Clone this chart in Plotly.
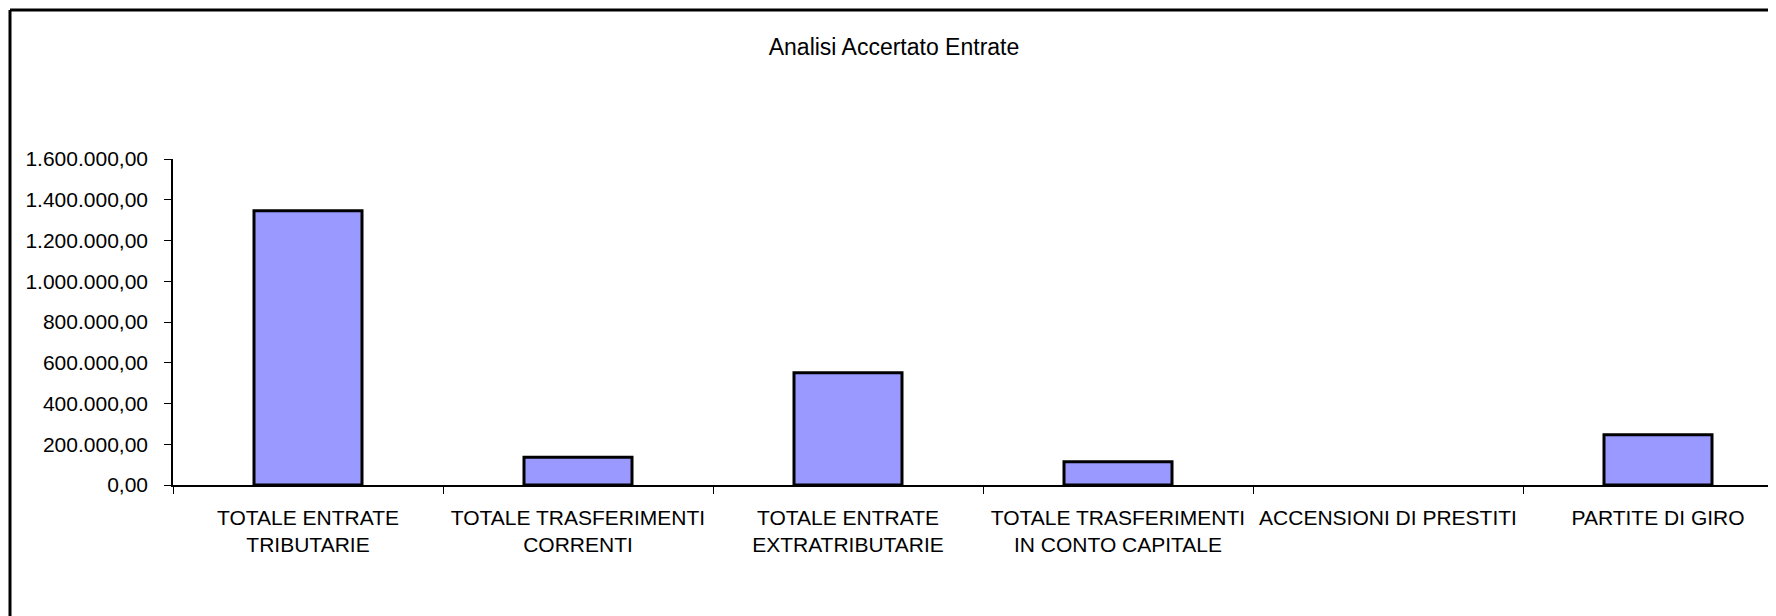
import plotly.graph_objects as go

# dati
categorie = [
    "TOTALE ENTRATE<br>TRIBUTARIE",
    "TOTALE TRASFERIMENTI<br>CORRENTI",
    "TOTALE ENTRATE<br>EXTRATRIBUTARIE",
    "TOTALE TRASFERIMENTI<br>IN CONTO CAPITALE",
    "ACCENSIONI DI PRESTITI",
    "PARTITE DI GIRO",
]
accertato = [1346000, 136000, 551000, 114000, 0, 247000]
y_ticks = [0, 200000, 400000, 600000, 800000, 1000000, 1200000, 1400000, 1600000]

# la pagina ha 8px di margine attorno al grafico
W, H = 1768, 608
ML, MR, MT, MB = 165, 0, 151, 131
CAT_PX = 270  # larghezza di una categoria in pixel

plot_w = W - ML - MR
plot_h = H - MT - MB
FONT = "Arial, Liberation Sans, sans-serif"

fig = go.Figure()
fig.add_trace(go.Bar(
    x=categorie,
    y=accertato,
    width=0.4,
    marker=dict(color="#9999FF",
                line=dict(color="black", width=[3 if v else 0 for v in accertato])),
))

# cornice del grafico (solo lati sinistro e superiore visibili)
x_left = (2 - ML) / plot_w
y_top = 1 + (MT - 2) / plot_h
fig.add_shape(type="line", xref="paper", yref="paper",
              x0=x_left, x1=1.2, y0=y_top, y1=y_top,
              line=dict(color="black", width=3))
fig.add_shape(type="line", xref="paper", yref="paper",
              x0=x_left, x1=x_left, y0=y_top, y1=-0.6,
              line=dict(color="black", width=3))

fig.update_layout(
    width=W, height=H,
    margin=dict(l=ML, r=MR, t=MT, b=MB, pad=0),
    paper_bgcolor="white",
    plot_bgcolor="white",
    separators=",.",
    showlegend=False,
    font=dict(family=FONT, color="black"),
    title=dict(
        text="Analisi Accertato Entrate",
        x=886 / W, xanchor="center",
        y=1 - 39 / H, yanchor="middle",
        font=dict(size=23, family=FONT, color="black"),
    ),
    xaxis=dict(
        type="category",
        range=[-0.5, -0.5 + plot_w / CAT_PX],
        showline=True, linecolor="black", linewidth=1.5,
        ticks="outside", ticklen=7, tickcolor="black", tickwidth=1.2,
        tickson="boundaries",
        showgrid=False, zeroline=False,
        tickfont=dict(size=21, family=FONT, color="black"),
        ticklabelstandoff=13,
    ),
    yaxis=dict(
        range=[0, 1600000],
        tickvals=y_ticks,
        tickformat=",.2f",
        showline=True, linecolor="black", linewidth=1.5,
        ticks="outside", ticklen=7, tickcolor="black", tickwidth=1.2,
        showgrid=False, zeroline=False,
        tickfont=dict(size=21, family=FONT, color="black"),
        ticklabelstandoff=12,
    ),
)

fig.write_html("out.html")
